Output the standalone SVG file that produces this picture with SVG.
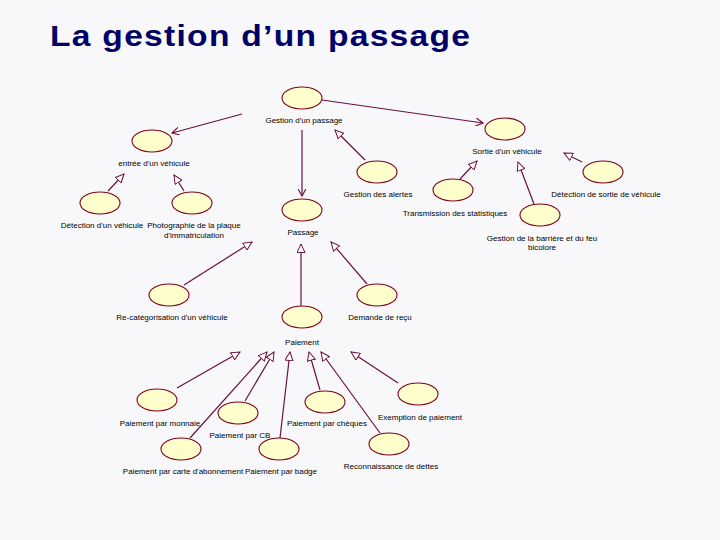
<svg xmlns="http://www.w3.org/2000/svg" width="720" height="540" viewBox="0 0 720 540">
<defs>
<style>
.uc ellipse{fill:#ffffcc;stroke:#800020;stroke-width:1.1}
.uc text,.lbl{font-family:"Liberation Sans",Arial,sans-serif;font-size:8px;fill:#000;text-anchor:middle}
.assoc{stroke:#6b1040;stroke-width:1.2;fill:none;marker-end:url(#open)}
.gen{stroke:#6b1040;stroke-width:1.2;fill:none;marker-end:url(#tri)}
.title{font-family:"Liberation Sans",Arial,sans-serif;font-weight:bold;font-size:30px;fill:#000066}
</style>
<marker id="open" viewBox="0 0 10 10" refX="9" refY="5" markerWidth="8" markerHeight="8" markerUnits="userSpaceOnUse" orient="auto">
<path d="M0,0 L9,5 L0,10" fill="none" stroke="#6b1040" stroke-width="1.4"/>
</marker>
<marker id="tri" viewBox="0 0 11 10" refX="10" refY="5" markerWidth="10" markerHeight="9" markerUnits="userSpaceOnUse" orient="auto">
<path d="M0.5,0.5 L10,5 L0.5,9.5 Z" fill="#ffffff" stroke="#6b1040" stroke-width="1.1"/>
</marker>
</defs>
<rect width="720" height="540" fill="#f8f8fa"/>
<text class="title" transform="translate(50,46) scale(1.12,1)" x="0" y="0" textLength="375" lengthAdjust="spacing">La gestion d’un passage</text>

<g id="connectors">
<line class="assoc" x1="242" y1="114" x2="172" y2="133"/>
<line class="assoc" x1="322" y1="100" x2="483" y2="123"/>
<line class="assoc" x1="302" y1="130" x2="302" y2="196"/>
<line class="gen" x1="365" y1="160" x2="335" y2="130"/>
<line class="gen" x1="460" y1="179" x2="477" y2="161"/>
<line class="gen" x1="534" y1="204" x2="518" y2="162"/>
<line class="gen" x1="582" y1="162" x2="564" y2="153"/>
<line class="gen" x1="108" y1="191" x2="124" y2="174"/>
<line class="gen" x1="184" y1="191" x2="174" y2="175"/>
<line class="gen" x1="184" y1="285" x2="252" y2="242"/>
<line class="gen" x1="301" y1="306" x2="301" y2="244"/>
<line class="gen" x1="367" y1="284" x2="331" y2="242"/>
<line class="gen" x1="177" y1="388" x2="240" y2="352"/>
<line class="gen" x1="245" y1="401" x2="274" y2="352"/>
<line class="gen" x1="190" y1="438" x2="267" y2="352"/>
<line class="gen" x1="280" y1="438" x2="290" y2="352"/>
<line class="gen" x1="320" y1="390" x2="309" y2="352"/>
<line class="gen" x1="380" y1="433" x2="321" y2="352"/>
<line class="gen" x1="398" y1="383" x2="351" y2="352"/>
</g>

<g id="gestion-passage" class="uc"><ellipse cx="302" cy="98" rx="20" ry="11"/><text x="304" y="123">Gestion d'un passage</text></g>
<g id="entree-vehicule" class="uc"><ellipse cx="152" cy="141" rx="20" ry="11"/><text x="154" y="166">entrée d'un véhicule</text></g>
<g id="sortie-vehicule" class="uc"><ellipse cx="505" cy="129" rx="20" ry="11"/><text x="507" y="154">Sortie d'un véhicule</text></g>
<g id="gestion-alertes" class="uc"><ellipse cx="377" cy="172" rx="20" ry="11"/><text x="378" y="197">Gestion des alertes</text></g>
<g id="transmission-stats" class="uc"><ellipse cx="453" cy="190" rx="20" ry="11"/><text x="455" y="216">Transmission des statistiques</text></g>
<g id="gestion-barriere" class="uc"><ellipse cx="540" cy="215" rx="20" ry="11"/><text x="542" y="241">Gestion de la barrière et du feu</text><text x="542" y="250">bicolore</text></g>
<g id="detection-sortie" class="uc"><ellipse cx="603" cy="172" rx="20" ry="11"/><text x="606" y="197">Détection de sortie de véhicule</text></g>
<g id="detection-vehicule" class="uc"><ellipse cx="100" cy="203" rx="20" ry="11"/><text x="102" y="228">Détection d'un véhicule</text></g>
<g id="photographie" class="uc"><ellipse cx="192" cy="203" rx="20" ry="11"/><text x="194" y="228">Photographie de la plaque</text><text x="194" y="238">d'immatriculation</text></g>
<g id="passage" class="uc"><ellipse cx="302" cy="210" rx="20" ry="11"/><text x="303" y="235">Passage</text></g>
<g id="recategorisation" class="uc"><ellipse cx="169" cy="295" rx="20" ry="11"/><text x="172" y="320">Re-catégorisation d'un véhicule</text></g>
<g id="demande-recu" class="uc"><ellipse cx="377" cy="295" rx="20" ry="11"/><text x="380" y="320">Demande de reçu</text></g>
<g id="paiement" class="uc"><ellipse cx="302" cy="317" rx="20" ry="11"/><text x="302" y="345">Paiement</text></g>
<g id="paiement-monnaie" class="uc"><ellipse cx="157" cy="400" rx="20" ry="11"/><text x="160" y="426">Paiement par monnaie</text></g>
<g id="paiement-cb" class="uc"><ellipse cx="238" cy="413" rx="20" ry="11"/><text x="240" y="438">Paiement par CB</text></g>
<g id="paiement-abonnement" class="uc"><ellipse cx="181" cy="449" rx="20" ry="11"/><text x="183" y="474">Paiement par carte d'abonnement</text></g>
<g id="paiement-badge" class="uc"><ellipse cx="279" cy="449" rx="20" ry="11"/><text x="281" y="474">Paiement par badge</text></g>
<g id="paiement-cheques" class="uc"><ellipse cx="325" cy="402" rx="20" ry="11"/><text x="327" y="426">Paiement par chèques</text></g>
<g id="exemption" class="uc"><ellipse cx="418" cy="394" rx="20" ry="11"/><text x="420" y="420">Exemption de paiement</text></g>
<g id="reconnaissance" class="uc"><ellipse cx="389" cy="444" rx="20" ry="11"/><text x="391" y="469">Reconnaissance de dettes</text></g>
</svg>
